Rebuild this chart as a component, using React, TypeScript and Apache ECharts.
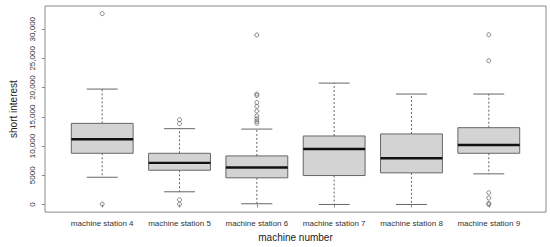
import React, { useEffect, useRef } from 'react';
import * as echarts from 'echarts';

const categories = [
  'machine station 4',
  'machine station 5',
  'machine station 6',
  'machine station 7',
  'machine station 8',
  'machine station 9',
];
const whiskerLow = [4660, 2170, 120, 0, 0, 5240];
const q1 = [8760, 5860, 4560, 4950, 5410, 8760];
const median = [11150, 7120, 6320, 9500, 7900, 10190];
const q3 = [13880, 8760, 8310, 11720, 12070, 13140];
const whiskerHigh = [19750, 12970, 12900, 20770, 18900, 18900];
const outliers: number[][] = [
  [32660, 50],
  [14500, 13850, 800, 50],
  [29000, 18900, 18650, 17450, 16800, 16000, 15150, 14650, 14250, 13900],
  [],
  [],
  [29050, 24600, 2000, 1100, 200, 0],
];
const yTickValues = [0, 5000, 10000, 15000, 20000, 25000, 30000];
const yTickLabels = ['0', '5000', '10,000', '15,000', '20,000', '25,000', '30,000'];
const xTickValues = [1, 2, 3, 4, 5, 6];

export default function App() {
  const ref = useRef<HTMLDivElement>(null);
  useEffect(() => {
    document.body.style.margin = '0';
    const chart = echarts.init(ref.current!, null, { renderer: 'svg' });
    const boxData = categories.map((_, i) => [
      i + 1,
      whiskerLow[i],
      q1[i],
      median[i],
      q3[i],
      whiskerHigh[i],
    ]);
    const outlierData: number[][] = [];
    outliers.forEach((arr, i) => arr.forEach((v) => outlierData.push([i + 1, v])));
    const stroke = '#666';
    chart.setOption({
      animation: false,
      backgroundColor: '#fff',
      grid: {
        left: 37,
        right: 4,
        top: 6,
        bottom: 34,
        show: true,
        borderColor: '#8a8a8a',
        borderWidth: 1,
        containLabel: false,
      },
      xAxis: {
        type: 'value',
        min: 0.26,
        max: 6.74,
        name: 'machine number',
        nameLocation: 'middle',
        nameGap: 14,
        nameTextStyle: { fontFamily: 'Liberation Sans', fontSize: 10, color: '#222' },
        axisLine: { show: false },
        splitLine: { show: false },
        axisTick: {
          show: true,
          length: 3,
          customValues: xTickValues,
          lineStyle: { color: '#8a8a8a' },
        },
        axisLabel: {
          customValues: xTickValues,
          formatter: (v: number) => categories[Math.round(v) - 1] ?? '',
          fontFamily: 'Liberation Sans',
          fontSize: 8,
          color: '#333',
          margin: 7,
        },
      },
      yAxis: {
        type: 'value',
        min: -1306,
        max: 33966,
        name: 'short interest',
        nameLocation: 'middle',
        nameGap: 27,
        nameRotate: 90,
        nameTextStyle: { fontFamily: 'Liberation Sans', fontSize: 10, color: '#222' },
        axisLine: { show: false },
        splitLine: { show: false },
        axisTick: {
          show: true,
          length: 3,
          customValues: yTickValues,
          lineStyle: { color: '#8a8a8a' },
        },
        axisLabel: {
          customValues: yTickValues,
          rotate: 90,
          formatter: (v: number) => {
            const idx = yTickValues.indexOf(v);
            return idx >= 0 ? yTickLabels[idx] : '';
          },
          fontFamily: 'Liberation Sans',
          fontSize: 8,
          color: '#333',
          margin: 9,
        },
      },
      series: [
        {
          type: 'custom',
          data: boxData,
          encode: { x: 0, y: [1, 2, 3, 4, 5] },
          renderItem: (params: any, api: any) => {
            const x = api.value(0);
            const pLo = api.coord([x, api.value(1)]);
            const pQ1 = api.coord([x, api.value(2)]);
            const pMed = api.coord([x, api.value(3)]);
            const pQ3 = api.coord([x, api.value(4)]);
            const pHi = api.coord([x, api.value(5)]);
            const pLeft = api.coord([x - 0.4, api.value(3)]);
            const cx = pMed[0];
            const hb = cx - pLeft[0];
            const hc = hb / 2;
            return {
              type: 'group',
              children: [
                {
                  type: 'line',
                  shape: { x1: cx, y1: pQ3[1], x2: cx, y2: pHi[1] },
                  style: { stroke, lineWidth: 1, lineDash: [2, 2] },
                },
                {
                  type: 'line',
                  shape: { x1: cx, y1: pQ1[1], x2: cx, y2: pLo[1] },
                  style: { stroke, lineWidth: 1, lineDash: [2, 2] },
                },
                {
                  type: 'line',
                  shape: { x1: cx - hc, y1: pHi[1], x2: cx + hc, y2: pHi[1] },
                  style: { stroke, lineWidth: 1 },
                },
                {
                  type: 'line',
                  shape: { x1: cx - hc, y1: pLo[1], x2: cx + hc, y2: pLo[1] },
                  style: { stroke, lineWidth: 1 },
                },
                {
                  type: 'rect',
                  shape: { x: cx - hb, y: pQ3[1], width: 2 * hb, height: pQ1[1] - pQ3[1] },
                  style: { fill: '#d3d3d3', stroke, lineWidth: 1 },
                },
                {
                  type: 'line',
                  shape: { x1: cx - hb, y1: pMed[1], x2: cx + hb, y2: pMed[1] },
                  style: { stroke: '#111', lineWidth: 2.4 },
                },
              ],
            };
          },
        },
        {
          type: 'scatter',
          data: outlierData,
          symbol: 'circle',
          symbolSize: 4,
          itemStyle: { color: 'rgba(0,0,0,0)', borderColor: '#666', borderWidth: 1 },
        },
      ],
    });
    return () => chart.dispose();
  }, []);
  return <div ref={ref} style={{ width: 550, height: 247 }} />;
}
